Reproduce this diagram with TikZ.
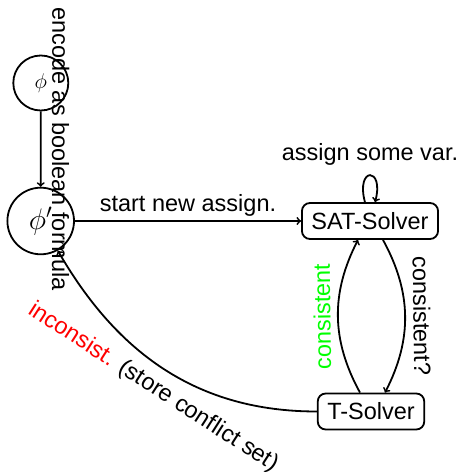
\documentclass[tikz,border=0pt]{standalone}
\usepackage{graphicx}
\usepackage{fontspec}
\setmainfont{Liberation Sans}
\begin{document}
\begin{tikzpicture}[x=1pt,y=1pt, line width=1.8pt, >=to,
  every node/.style={font=\fontsize{23.5}{28}\selectfont},
  state/.style={circle, draw, inner sep=0pt},
  solver/.style={draw, rounded corners=8pt, minimum height=36pt, inner xsep=9.5pt, inner ysep=0pt}]
\useasboundingbox (0,0) rectangle (462,472);
\node[state, minimum size=55pt] (phi) at (40.8,389) {\resizebox*{!}{19pt}{$\phi$}};
\node[state, minimum size=66.6pt] (phip) at (40.7,251) {\resizebox*{!}{28pt}{$\phi'$}};
\node[solver, minimum width=134pt] (sat) at (370,251) {SAT-Solver};
\node[solver] (tsol) at (371,60.5) {T-Solver};

\draw[->] (phi) -- node[midway, sloped, allow upside down, above=7pt]{encode as boolean formula} (phip);
\draw[->] (phip) -- node[midway, above]{start new assign.} (sat);
\draw[->] (sat) to[out=105, in=75, distance=37pt] node[midway, above=6pt]{assign some var.} (sat);
\draw[->] ([xshift=13pt]sat.south) to[bend left=28] node[midway, sloped, allow upside down, above=4pt]{consistent?} ([xshift=14pt]tsol.north);
\draw[->] ([xshift=-11pt]tsol.north) to[bend left=28] node[midway, sloped, allow upside down, above=3pt, text=green]{consistent} ([xshift=-12pt]sat.south);
\draw[->] (tsol.west) to[out=180, in=-60] node[midway, sloped, below=6pt]{\textcolor{red}{inconsist.} (store conflict set)} (phip);
\end{tikzpicture}
\end{document}
